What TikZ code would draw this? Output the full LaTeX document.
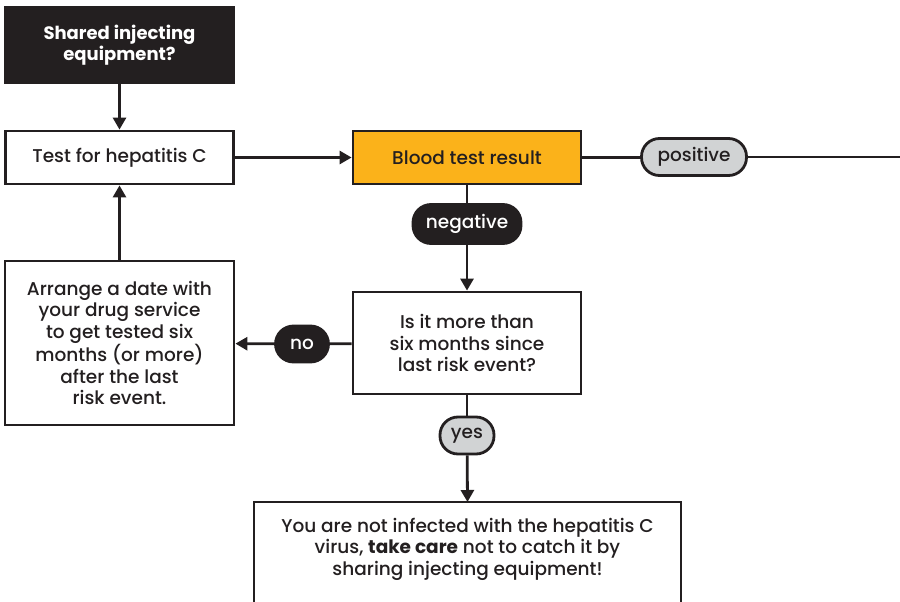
\documentclass[tikz,border=0pt]{standalone}
\usepackage{fontspec}
\IfFontExistsTF{Poppins Medium}
    {\setmainfont{Poppins Medium}[BoldFont={Poppins Bold}]}
    {\setmainfont{Poppins}}
\usetikzlibrary{arrows.meta}

\definecolor{inkblack}{HTML}{231F20}
\definecolor{testorange}{HTML}{FBB21A}
\definecolor{pillgray}{HTML}{D1D3D4}

\begin{document}
\begin{tikzpicture}[x=1pt, y=-1pt,
        line width=2.8pt, draw=inkblack,
        box/.style={draw=inkblack, fill=white, rectangle, align=center,
                font=\fontsize{18.5}{21.5}\selectfont, text=inkblack},
        pill/.style={draw=inkblack, rounded corners=18pt, minimum height=37pt,
                font=\fontsize{18.5}{21.5}\selectfont, inner sep=0pt},
        flow/.style={-{Triangle[length=12pt, width=13pt]}},
    ]

    \useasboundingbox (0, 0) rectangle (900, 602);

    % Boxes
    \node [box, fill=inkblack, text=white, font=\fontsize{18}{21.5}\selectfont\bfseries,
        minimum width=229pt, minimum height=76pt] (shared) at (119.5, 45) {Shared injecting\\equipment?};
    \node [box, minimum width=228pt, minimum height=53pt] (test) at (119.5, 157.5) {Test for hepatitis C};
    \node [box, fill=testorange, minimum width=228pt, minimum height=53pt] (blood) at (467, 157.5) {Blood test result};
    \node [box, minimum width=228pt, minimum height=102pt] (question) at (467, 343) {Is it more than\\six months since\\last risk event?};
    \node [box, minimum width=229pt, minimum height=164pt] (arrange) at (119.5, 343)
        {Arrange a date with\\your drug service\\to get tested six\\months (or more)\\after the last\\risk event.};

    % Result box (runs off the page)
    \draw [fill=white] (254, 502) rectangle (681, 640);
    \node [box, draw=none, fill=none] (result) at (467.5, 549)
        {You are not infected with the hepatitis C\\virus, \textbf{take care} not to catch it by\\sharing injecting equipment!};
    \coordinate (resulttop) at (467.5, 502);
    \coordinate (edge) at (900, 157);

    % Pills
    \node [pill, fill=pillgray, text=inkblack, minimum width=105pt] (positive) at (694, 157) {positive};
    \node [pill, fill=inkblack, text=white, minimum width=108pt, minimum height=39pt] (negative) at (467, 224) {negative};
    \node [pill, fill=inkblack, text=white, minimum width=53pt, minimum height=36pt] (no) at (302, 344) {no};
    \node [pill, fill=pillgray, text=inkblack, minimum width=54pt] (yes) at (467, 435.5) {yes};

    % Arrows
    \draw [flow] (shared) -- (test);
    \draw [flow] (test) -- (blood);
    \draw (blood.east) -- (blood.east -| positive.west);
    \draw (positive.east |- edge) -- (edge);
    \draw (blood) -- (negative);
    \draw [flow] (negative) -- (question);
    \draw (question) -- (no);
    \draw [flow] (no) -- (arrange);
    \draw [flow] (arrange) -- (test);
    \draw (question) -- (yes);
    \draw [flow] (yes) -- (resulttop);

\end{tikzpicture}
\end{document}
